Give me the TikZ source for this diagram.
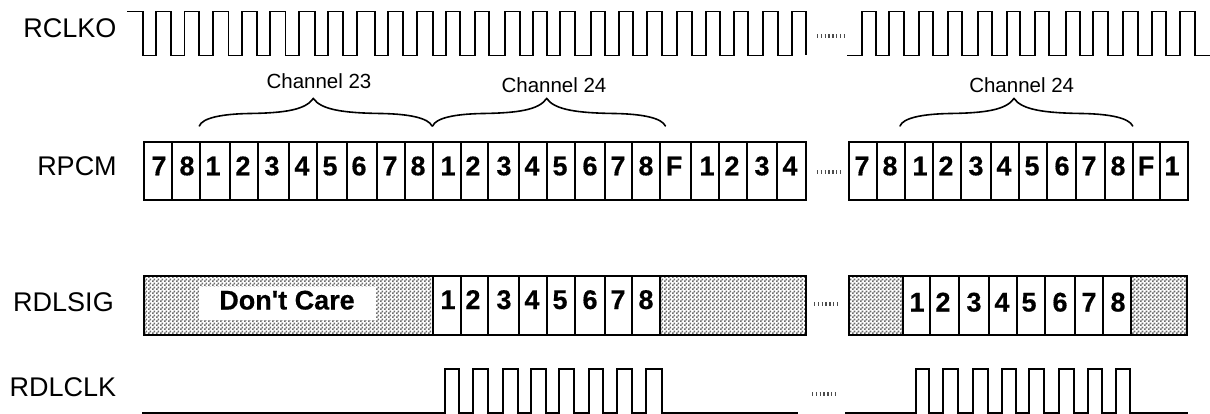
\documentclass[tikz,border=0pt]{standalone}
\usepackage{fontspec}
\setmainfont{Liberation Sans}[Ligatures=TeXOff, BoldFeatures={FakeBold=0.4}]
\usetikzlibrary{patterns}
\pgfdeclarepatternformonly{checkerfine}{\pgfqpoint{0pt}{0pt}}{\pgfqpoint{4pt}{4pt}}{\pgfqpoint{4pt}{4pt}}{%
  \pgfpathrectangle{\pgfqpoint{0pt}{0pt}}{\pgfqpoint{2pt}{2pt}}%
  \pgfpathrectangle{\pgfqpoint{2pt}{2pt}}{\pgfqpoint{2pt}{2pt}}%
  \pgfusepath{fill}}
\tikzset{
  x=1pt, y=-1pt,
  wave/.style={line width=1.9pt, line join=miter, black},
  cellbox/.style={line width=2pt, black},
  hatchfill/.style={pattern=checkerfine, pattern color=black!58},
  digit/.style={font=\fontsize{27}{27}\selectfont\bfseries, anchor=base, inner sep=0pt},
  siglabel/.style={font=\fontsize{27}{27}\selectfont, anchor=base, inner sep=0pt},
  chlabel/.style={font=\fontsize{20.5}{20.5}\selectfont, anchor=base, inner sep=0pt},
  dots/.style={line width=3.5pt, black!70, dash pattern=on 1.3pt off 2.5pt},
  curly/.pic={\draw[line width=1.6pt, line cap=round]
      (-114,27.5) .. controls (-111,19.5) and (-92,15.5) .. (-64,15)
      .. controls (-29,14.5) and (-8,11.5) .. (0,0)
      .. controls (8,11.5) and (31,14.5) .. (68,15)
      .. controls (96,15.5) and (115,19.5) .. (118.7,27.5);}
}
\begin{document}
\begin{tikzpicture}
\useasboundingbox (0,0) rectangle (1210,414);
% labels
\node[siglabel] (lrclko) at (70,38) {RCLKO};
\node[siglabel] (lrpcm) at (77,176) {RPCM};
\node[siglabel] (lrdlsig) at (63.5,311.7) {RDLSIG};
\node[siglabel] (lrdlclk) at (63,396.7) {RDLCLK};
\node[chlabel] (c23) at (319,89) {Channel 23};
\node[chlabel] (c24a) at (554,92.3) {Channel 24};
\node[chlabel] (c24b) at (1021.7,92.3) {Channel 24};
% RCLKO
\draw[wave] (127,11.5) -- (143,11.5)
  foreach \f/\r in {143/156,171/184.5,199/213,228.5/242,257/270,285.5/299,315/328,343/357,375/388,403/417,433/446,460/475,489/505,520/533,547/560,575/591,605/619,633/647,662/677,692/706,720/734,748/763,778/792}
  { -- (\f,11.5) -- (\f,55.5) -- (\r,55.5) -- (\r,11.5) } -- (806,11.5) -- (806,55.5);
\draw[wave] (847,55.5)
  foreach \r/\f in {862/876,889/904,919/933,948/962,978/992,1007/1020,1035/1049,1066/1080,1093/1108,1123/1138,1152/1166,1180/1195}
  { -- (\r,55.5) -- (\r,11.5) -- (\f,11.5) -- (\f,55.5) } -- (1210,55.5);
% braces
\pic at (313.3,98.5) {curly};
\pic at (546.7,98.5) {curly};
\pic at (1014,98.5) {curly};
% RPCM
\draw[cellbox] (143.5,142) rectangle (805.5,200);
\foreach \x in {172,200,230,258,289,316.5,346.5,376.5,404.5,433,460.5,488,519,546.5,574.5,604.5,632,660,690.5,718.5,746.5,776.5}
  \draw[cellbox] (\x,142) -- (\x,200);
\foreach \x/\t [count=\i] in {159/7,187/8,213/1,243/2,272/3,302/4,330/5,359/6,390/7,418/8,448/1,473/2,504/3,532/4,560/5,590/6,618/7,646/8,674/F,707/1,732/2,762/3,790/4}
  \node[digit] (p\i) at (\x,175.3) {\t};
\draw[cellbox] (848.5,142) rectangle (1188,200);
\foreach \x in {877,905,933,960.5,991,1019,1046.5,1076,1105,1133,1160}
  \draw[cellbox] (\x,142) -- (\x,200);
\foreach \x/\t [count=\i] in {862/7,890/8,920/1,946/2,976/3,1004/4,1032/5,1062/6,1089/7,1118/8,1146/F,1172/1}
  \node[digit] (q\i) at (\x,175.3) {\t};
% RDLSIG
\fill[white] (143.5,276) rectangle (433,334.5);
\path[hatchfill] (143.5,276) rectangle (433,334.5);
\path[hatchfill] (660,276) rectangle (805.5,334.5);
\draw[cellbox] (143.5,276) rectangle (805.5,334.5);
\foreach \x in {433,460.5,488,519,546.5,574.5,604.5,632,660}
  \draw[cellbox] (\x,276) -- (\x,334.5);
\fill[white] (199,287) rectangle (376,319.5);
\node[digit] (dc) at (287,309.5) {Don't Care};
\foreach \x/\t [count=\i] in {448/1,473/2,504/3,532/4,560/5,590/6,618/7,646/8}
  \node[digit] (s\i) at (\x,309) {\t};
\path[hatchfill] (848.5,276) rectangle (902.7,334.5);
\path[hatchfill] (1130.7,276) rectangle (1187,334.5);
\draw[cellbox] (848.5,276) rectangle (1187,334.5);
\foreach \x in {902.7,930,958.5,988.7,1016.7,1044.7,1074.7,1102.7,1130.7}
  \draw[cellbox] (\x,276) -- (\x,334.5);
\foreach \x/\t [count=\i] in {917/1,943/2,974/3,1002/4,1029/5,1060/6,1089/7,1118/8}
  \node[digit] (t\i) at (\x,311.5) {\t};
% RDLCLK
\draw[wave] (142,413) foreach \r/\f in {445/459,473/488,503/518,531/546,559/574,589/603,617/632,646/662}
  { -- (\r,413) -- (\r,369.3) -- (\f,369.3) -- (\f,413) } -- (798,413);
\draw[wave] (845,413) foreach \r/\f in {915.7/929,943/958,973/988,1002/1016,1029/1044,1059/1074,1088/1102,1116/1130}
  { -- (\r,413) -- (\r,369.3) -- (\f,369.3) -- (\f,413) } -- (1188,413);
% dots
\draw[dots] (817,36) -- (844,36);
\draw[dots] (817,172) -- (841,172);
\draw[dots] (814,304) -- (838,304);
\draw[dots] (812,394) -- (836,394);
\end{tikzpicture}
\end{document}
